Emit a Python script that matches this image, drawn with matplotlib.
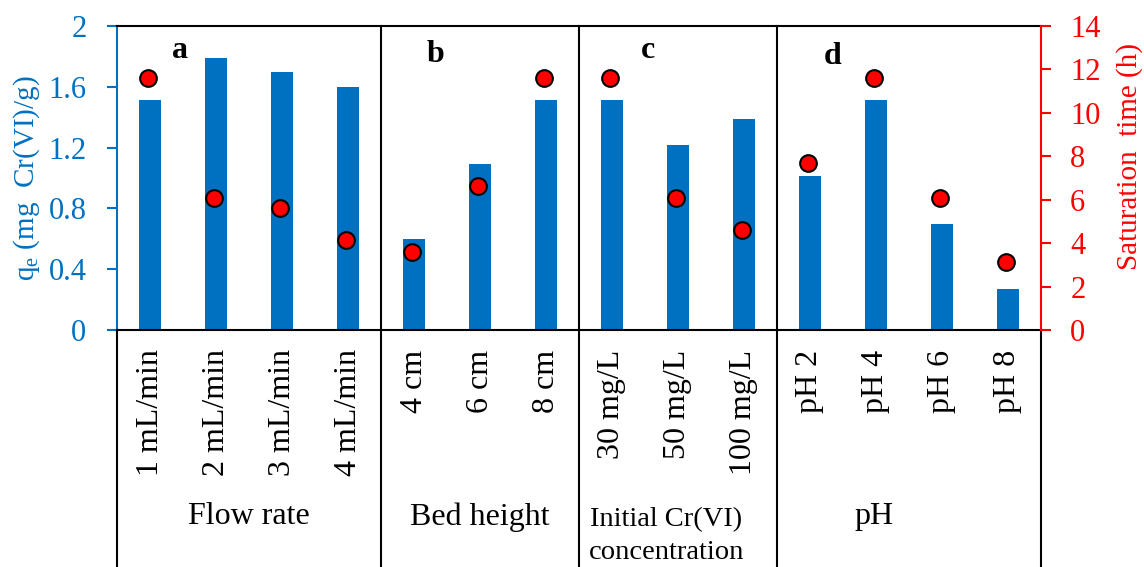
import numpy as np
import matplotlib
matplotlib.use("Agg")
import matplotlib.pyplot as plt

plt.rcParams['font.family'] = ['Liberation Serif', 'DejaVu Serif']
plt.rcParams['mathtext.default'] = 'regular'

# data
categories = ['1 mL/min', '2 mL/min', '3 mL/min', '4 mL/min',
              '4 cm', '6 cm', '8 cm',
              '30 mg/L', '50 mg/L', '100 mg/L',
              'pH 2', 'pH 4', 'pH 6', 'pH 8']
qe = [1.51, 1.79, 1.70, 1.60,
      0.60, 1.09, 1.51,
      1.51, 1.22, 1.39,
      1.01, 1.51, 0.70, 0.27]
sat_time = [11.6, 6.07, 5.6, 4.15,
            3.6, 6.63, 11.6,
            11.6, 6.07, 4.6,
            7.68, 11.6, 6.1, 3.15]

groups = ['Flow rate', 'Bed height', 'Initial Cr(VI)\nconcentration', 'pH']
group_sizes = [4, 3, 3, 4]
group_label_x = [1.5, 5.0, 7.82, 10.97]
group_label_y = [-0.615, -0.615, -0.678, -0.615]
group_fs = [23, 23, 20.5, 23]
panel_letters = ['a', 'b', 'c', 'd']
letter_x = [0.45, 4.33, 7.54, 10.35]
letter_y = [1.84, 1.81, 1.84, 1.80]

blue = '#0070C0'
red = '#FF0000'
fs = 23
tfs = 22
lfs = 21

fig = plt.figure(figsize=(11.44, 5.67), dpi=100)
ax = fig.add_axes([117 / 1144, 1 - 330 / 567, (1041 - 117) / 1144, (330 - 26) / 567])

x = np.arange(len(categories))
ax.bar(x, qe, width=0.33, color=blue, zorder=2)
ax.set_xlim(-0.5, len(categories) - 0.5)
ax.set_ylim(0, 2)
ax.set_yticks(np.arange(0, 2.01, 0.4))
ax.set_yticklabels(['0', '0.4', '0.8', '1.2', '1.6', '2'])
ax.set_xticks(x)
ax.set_xticklabels(categories, rotation=90)
ax.tick_params(axis='x', length=0, pad=14, labelsize=fs)
ax.tick_params(axis='y', colors=blue, labelcolor=blue, labelsize=tfs,
               length=7, width=1.5, direction='out', pad=15)
ax.set_ylabel('q$_e$ (mg  Cr(VI)/g)', color=blue, fontsize=lfs)
ax.yaxis.set_label_coords(-0.081, 0.5)

for s in ['top', 'bottom']:
    ax.spines[s].set_color('black')
    ax.spines[s].set_linewidth(1.5)
ax.spines['left'].set_color(blue)
ax.spines['left'].set_linewidth(1.5)
ax.spines['right'].set_visible(False)

ax2 = ax.twinx()
ax2.plot(x - 0.03, sat_time, 'o', color=red, markeredgecolor='black',
         markeredgewidth=1.5, markersize=12, zorder=3)
ax2.set_ylim(0, 14)
ax2.set_yticks(np.arange(0, 15, 2))
ax2.tick_params(axis='y', colors=red, labelcolor=red, labelsize=tfs,
                length=7, width=1.5, direction='out', pad=14)
ax2.set_ylabel('Saturation  time (h)', color=red, fontsize=lfs)
ax2.yaxis.set_label_coords(1.081, 0.572)
ax2.spines['right'].set_color(red)
ax2.spines['right'].set_linewidth(1.5)
ax2.spines['left'].set_visible(False)
ax2.spines['top'].set_visible(False)
ax2.spines['bottom'].set_visible(False)

# group separators, inside and below the plot
edges = np.concatenate([[0], np.cumsum(group_sizes)]) - 0.5
trans = ax.get_xaxis_transform()
for i, e in enumerate(edges):
    top = 1.0 if 0 < i < len(edges) - 1 else 0.0
    ax.plot([e, e], [top, -0.8], transform=trans, color='black', lw=1.5,
            clip_on=False, zorder=5)

for gx, gy, g, gf in zip(group_label_x, group_label_y, groups, group_fs):
    ax.text(gx, gy, g, transform=trans, ha='center', va='center',
            fontsize=gf, linespacing=1.37)

for lx, ly, l in zip(letter_x, letter_y, panel_letters):
    ax.text(lx, ly, l, ha='center', va='center', fontsize=fs, fontweight='bold')

fig.savefig('out.png', dpi=100)
